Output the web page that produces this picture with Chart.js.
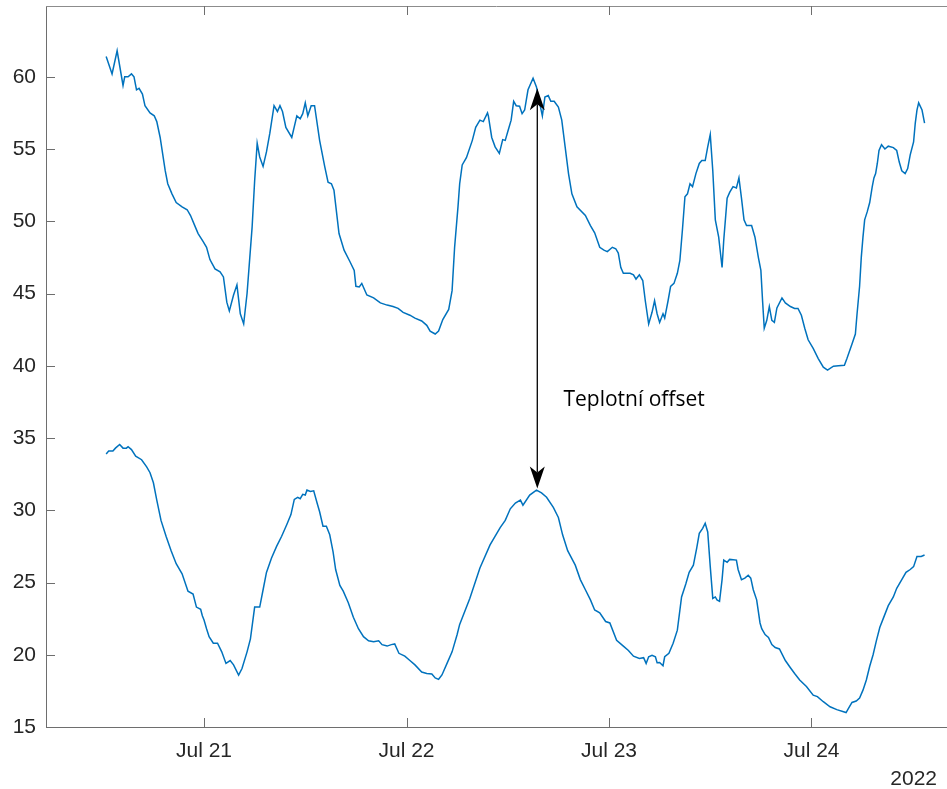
<!DOCTYPE html>
<html>
<head>
<meta charset="utf-8">
<script src="https://cdn.jsdelivr.net/npm/chart.js@4.4.0/dist/chart.umd.min.js"></script>
<style>
  html, body { margin: 0; padding: 0; background: #fff; overflow: hidden; }
  #wrap { width: 947px; height: 789px; }
</style>
</head>
<body>
<div id="wrap"><canvas id="c" width="947" height="789"></canvas></div>
<script>
// x values: hours since Jul 20 2022 00:00
const tTop = [12.4,13.1,13.7,14.4,14.6,15.0,15.4,15.7,16.0,16.3,16.7,17.0,17.6,18.1,18.4,18.8,19.4,19.7,20.2,20.7,21.4,22.0,22.4,22.9,23.3,23.9,24.3,24.7,25.3,25.9,26.3,26.7,27.0,27.5,27.9,28.3,28.7,29.1,29.7,30.0,30.3,30.6,31.0,31.4,31.8,32.3,32.7,33.0,33.3,33.7,34.4,35.0,35.4,35.7,36.0,36.3,36.7,37.1,37.7,38.3,38.7,39.1,39.4,40.0,40.6,41.3,41.8,42.0,42.4,42.7,43.3,44.1,44.9,45.7,46.4,47.0,47.6,48.4,49.0,49.8,50.4,50.8,51.4,51.8,52.3,53.0,53.4,53.7,54.1,54.3,54.6,55.1,55.8,56.2,56.7,57.1,57.6,57.7,58.1,58.5,59.0,59.4,59.7,60.1,60.4,60.7,61.0,61.4,61.7,62.0,62.4,63.0,63.4,63.7,64.1,64.4,64.8,65.1,65.5,66.0,66.4,66.8,67.2,67.6,68.2,69.2,69.8,70.3,70.9,71.4,71.8,72.4,72.8,73.1,73.4,73.7,74.5,74.9,75.2,75.6,76.0,76.3,76.7,77.1,77.4,77.7,78.0,78.4,78.6,79.0,79.3,79.7,80.1,80.4,80.7,81.0,81.3,81.6,81.9,82.3,82.7,83.0,83.4,83.7,84.0,84.3,84.6,85.0,85.4,85.6,86.0,86.3,86.7,87.1,87.4,87.7,88.0,88.3,88.9,89.3,89.7,90.0,90.2,90.4,90.7,91.0,91.3,91.6,91.9,92.5,92.9,93.5,94.0,94.4,94.8,95.2,95.6,96.2,96.8,97.4,97.9,98.6,99.2,99.9,100.2,100.8,101.2,101.4,101.7,101.9,102.1,102.3,102.6,102.9,103.2,103.4,103.6,103.8,104.0,104.3,104.7,105.1,105.7,106.1,106.4,106.7,107.1,107.4,107.7,108.1,108.3,108.5,108.7,109.1,109.4];
const vTop = [61.4,60.2,61.8,59.4,60.0,60.0,60.2,60.0,59.1,59.2,58.8,58.0,57.5,57.3,56.9,55.8,53.5,52.6,51.9,51.3,51.0,50.8,50.4,49.7,49.15,48.6,48.2,47.35,46.7,46.5,46.15,44.4,43.8,44.9,45.6,43.6,42.9,45.0,49.6,52.8,55.4,54.45,53.8,54.8,56.1,58.0,57.6,58.0,57.6,56.5,55.8,57.3,57.1,57.45,58.2,57.3,58.0,58.0,55.6,53.8,52.7,52.6,52.15,49.15,48.0,47.2,46.6,45.5,45.45,45.7,44.9,44.7,44.35,44.2,44.1,43.97,43.7,43.5,43.3,43.1,42.8,42.4,42.2,42.4,43.2,43.9,45.2,48.2,51.0,52.6,53.9,54.4,55.6,56.5,57.0,56.9,57.5,57.3,55.8,55.15,54.7,55.65,55.6,56.4,57.0,58.3,58.0,57.96,57.45,57.7,59.1,59.9,59.3,58.4,57.3,58.6,58.7,58.3,58.3,57.9,57.0,55.15,53.3,51.9,51.0,50.4,49.7,49.2,48.2,48.0,47.9,48.2,48.1,47.8,46.8,46.4,46.4,46.3,46.0,46.3,45.9,44.5,42.9,43.7,44.5,43.6,43.0,43.6,43.3,44.5,45.5,45.7,46.4,47.3,49.4,51.7,51.9,52.6,52.4,53.3,54.0,54.2,54.2,55.15,56.0,53.5,50.1,48.9,46.8,48.7,51.6,52.0,52.4,52.3,53.0,51.6,50.1,49.7,49.7,48.9,47.5,46.6,44.5,42.6,43.15,44.1,43.15,43.0,44.0,44.7,44.35,44.1,43.97,43.97,43.5,42.6,41.8,41.2,40.5,39.9,39.7,39.97,40.0,40.04,40.5,41.5,42.2,43.6,45.5,47.5,48.9,50.1,50.65,51.3,52.4,53.0,53.3,54.0,54.9,55.3,55.0,55.2,55.1,54.9,54.1,53.5,53.3,53.65,54.6,55.5,56.8,57.7,58.2,57.7,56.8];

const tBot = [12.4,12.7,13.2,13.5,14.0,14.4,14.8,15.0,15.4,15.9,16.6,17.2,17.6,18.0,18.4,18.9,19.5,20.1,20.7,21.4,22.1,22.7,23.1,23.6,23.8,24.0,24.3,24.6,25.1,25.6,26.1,26.6,27.1,27.5,28.1,28.5,29.1,29.5,30.0,30.6,31.0,31.4,32.0,32.6,33.2,33.8,34.3,34.7,35.1,35.4,35.7,36.0,36.2,36.6,37.0,37.4,37.7,38.1,38.5,38.9,39.3,39.6,40.1,40.5,41.1,41.7,42.3,42.9,43.5,44.1,44.7,45.1,45.7,46.2,46.6,47.1,47.8,48.4,49.0,49.8,50.4,51.0,51.4,51.8,52.2,52.8,53.4,54.0,54.3,55.5,56.7,57.9,59.1,59.7,60.3,60.9,61.5,61.8,62.6,63.4,64.0,64.6,65.4,66.0,66.5,67.1,68.0,68.6,69.2,69.8,70.3,70.9,71.6,72.1,72.9,73.7,74.3,74.9,75.6,76.1,76.4,76.7,77.1,77.5,77.7,78.0,78.4,78.6,79.1,79.6,80.1,80.6,81.1,81.5,82.0,82.4,82.7,83.1,83.4,83.7,84.0,84.3,84.6,84.8,85.1,85.4,85.6,86.0,86.3,87.1,87.3,87.7,88.1,88.5,88.8,89.1,89.5,89.9,90.1,90.5,90.9,91.3,91.7,92.2,92.9,93.5,94.0,94.6,95.4,96.2,96.7,97.4,98.2,99.0,99.8,100.1,100.4,100.8,101.3,101.7,102.1,102.5,102.9,103.3,103.7,104.1,104.5,105.1,105.7,106.1,106.7,107.2,107.7,108.1,108.5,109.0,109.4];
const vBot = [33.9,34.1,34.1,34.3,34.55,34.3,34.3,34.4,34.2,33.75,33.5,33.0,32.6,31.9,30.7,29.3,28.2,27.2,26.3,25.6,24.4,24.2,23.3,23.15,22.7,22.4,21.8,21.25,20.8,20.8,20.2,19.4,19.6,19.3,18.6,19.05,20.2,21.1,23.3,23.3,24.5,25.7,26.7,27.5,28.2,29.0,29.7,30.75,30.9,30.8,31.1,31.05,31.4,31.3,31.35,30.5,29.9,28.9,28.9,28.3,27.1,25.9,24.8,24.4,23.6,22.6,21.8,21.25,20.97,20.9,20.97,20.7,20.6,20.7,20.75,20.1,19.9,19.6,19.3,18.8,18.7,18.67,18.4,18.3,18.6,19.4,20.2,21.4,22.1,23.9,26.0,27.6,28.8,29.3,30.1,30.5,30.7,30.35,31.05,31.4,31.2,30.9,30.2,29.5,28.3,27.2,26.2,25.2,24.5,23.8,23.1,22.9,22.3,22.2,21.0,20.6,20.3,19.9,19.75,19.8,19.4,19.86,19.96,19.86,19.45,19.47,19.24,19.86,20.1,20.8,21.7,24.0,24.9,25.7,26.2,27.4,28.4,28.75,29.1,28.5,26.1,23.9,24.0,23.8,23.7,25.2,26.55,26.4,26.6,26.55,25.9,25.2,25.3,25.5,25.3,24.5,23.8,22.2,21.8,21.4,21.2,20.7,20.5,20.4,19.6,19.1,18.7,18.25,17.8,17.2,17.1,16.75,16.4,16.2,16.06,16.0,16.3,16.7,16.8,17.0,17.55,18.25,19.2,20.0,21.0,21.9,22.5,23.4,24.0,24.6,25.2,25.7,25.9,26.1,26.8,26.8,26.9];

const xTickHours = [24, 48, 72, 96];
const xTickLabels = ['Jul 21', 'Jul 22', 'Jul 23', 'Jul 24'];
const yTicks = [15, 20, 25, 30, 35, 40, 45, 50, 55, 60];
const yearLabel = '2022';
const offsetX = 63.5, offsetFrom = 59.2, offsetTo = 31.5;
const offsetLabel = 'Teplotní offset';
const offsetLabelAt = [66.6, 37.6];

const lineColor = '#0072BD';
const axisColor = '#6e6e6e';
const textColor = '#262626';
const tickFont = '21px "Liberation Sans", Arial, sans-serif';

function pairs(t, v) { return t.map((x, i) => ({ x: x, y: v[i] })); }

const decor = {
  id: 'decor',
  afterDraw(chart) {
    const { ctx, chartArea: a, scales: { x, y } } = chart;
    ctx.save();
    // top border
    ctx.strokeStyle = '#8c8c8c';
    ctx.lineWidth = 1;
    ctx.beginPath();
    ctx.moveTo(a.left, a.top + 0.5);
    ctx.lineTo(a.right, a.top + 0.5);
    ctx.stroke();
    // inward ticks
    ctx.strokeStyle = axisColor;
    ctx.beginPath();
    y.ticks.forEach(t => {
      const py = Math.round(y.getPixelForValue(t.value)) + 0.5;
      ctx.moveTo(a.left, py); ctx.lineTo(a.left + 9, py);
    });
    x.ticks.forEach(t => {
      const px = Math.round(x.getPixelForValue(t.value)) + 0.5;
      ctx.moveTo(px, a.bottom); ctx.lineTo(px, a.bottom - 9);
      ctx.moveTo(px, a.top); ctx.lineTo(px, a.top + 9);
    });
    ctx.stroke();
    // year label
    ctx.fillStyle = textColor;
    ctx.font = tickFont;
    ctx.textAlign = 'right';
    ctx.textBaseline = 'middle';
    ctx.fillText(yearLabel, 937, 779);
    // double arrow
    const ax = x.getPixelForValue(offsetX);
    const y1 = y.getPixelForValue(offsetFrom);
    const y2 = y.getPixelForValue(offsetTo);
    const L = 22, W = 7.5, N = 6;
    ctx.strokeStyle = '#000';
    ctx.lineWidth = 1.3;
    ctx.beginPath();
    ctx.moveTo(ax, y1 + L - N); ctx.lineTo(ax, y2 - L + N);
    ctx.stroke();
    ctx.fillStyle = '#000';
    ctx.beginPath();
    ctx.moveTo(ax, y1); ctx.lineTo(ax + W, y1 + L); ctx.lineTo(ax, y1 + L - N); ctx.lineTo(ax - W, y1 + L); ctx.closePath();
    ctx.fill();
    ctx.beginPath();
    ctx.moveTo(ax, y2); ctx.lineTo(ax + W, y2 - L); ctx.lineTo(ax, y2 - L + N); ctx.lineTo(ax - W, y2 - L); ctx.closePath();
    ctx.fill();
    // label
    ctx.font = '21px "Open Sans", "Noto Sans", sans-serif';
    ctx.textAlign = 'left';
    ctx.textBaseline = 'middle';
    ctx.fillStyle = '#000';
    ctx.fillText(offsetLabel, x.getPixelForValue(offsetLabelAt[0]), y.getPixelForValue(offsetLabelAt[1]));
    ctx.restore();
  }
};

function noPad(s) { s.paddingTop = 0; s.paddingBottom = 0; s.paddingLeft = 0; s.paddingRight = 0; }

new Chart(document.getElementById('c'), {
  type: 'line',
  data: {
    datasets: [
      { data: pairs(tTop, vTop), borderColor: lineColor, borderWidth: 1.5, pointRadius: 0, tension: 0, fill: false },
      { data: pairs(tBot, vBot), borderColor: lineColor, borderWidth: 1.5, pointRadius: 0, tension: 0, fill: false }
    ]
  },
  options: {
    responsive: false,
    animation: false,
    events: [],
    layout: { padding: { top: 6, right: 0, left: 0, bottom: 0 } },
    plugins: { legend: { display: false }, tooltip: { enabled: false } },
    scales: {
      x: {
        type: 'linear',
        min: 5.27,
        max: 112.06,
        afterFit: s => { s.height = 62; noPad(s); },
        afterBuildTicks: s => { s.ticks = xTickHours.map(v => ({ value: v })); },
        grid: { display: false, drawTicks: false },
        border: { display: true, color: axisColor, width: 1 },
        ticks: {
          autoSkip: false,
          maxRotation: 0,
          padding: 12,
          color: textColor,
          font: { family: '"Liberation Sans", Arial, sans-serif', size: 21 },
          callback: v => xTickLabels[xTickHours.indexOf(v)]
        }
      },
      y: {
        type: 'linear',
        min: 15,
        max: 64.9,
        afterFit: s => { s.width = 46; noPad(s); },
        afterBuildTicks: s => { s.ticks = yTicks.map(v => ({ value: v })); },
        grid: { display: false, drawTicks: false },
        border: { display: true, color: axisColor, width: 1 },
        ticks: {
          padding: 10,
          color: textColor,
          font: { family: '"Liberation Sans", Arial, sans-serif', size: 21 }
        }
      }
    }
  },
  plugins: [decor]
});
</script>
</body>
</html>
